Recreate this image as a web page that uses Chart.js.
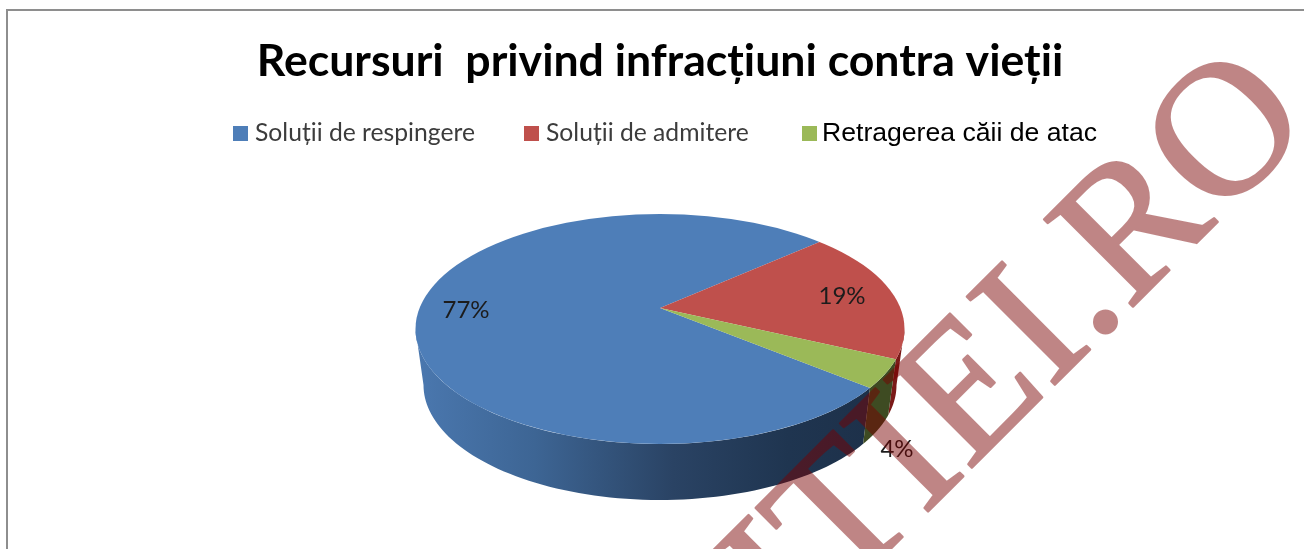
<!DOCTYPE html>
<html><head><meta charset="utf-8">
<style>html,body{margin:0;padding:0;background:#fff;overflow:hidden}canvas{display:block}</style>
<script src="https://cdn.jsdelivr.net/npm/chart.js@4"></script>
</head><body><canvas id="c" width="1304" height="549"></canvas>
<script>
const titleText = 'Recursuri  privind infracțiuni contra vieții';
const categories = ['Soluții de respingere', 'Soluții de admitere', 'Retragerea căii de atac'];
const values = [77, 19, 4];
const sliceColors = ['#4e7eb8', '#bf504c', '#9bb958'];
const wallColors = [null, '#7b1a18', '#3e4b22'];
const watermarkText = 'JUSTITIEI.RO';

// pie projection (tilted disc)
const TOP = {cx: 660, cy: 329, rx: 244.5, ry: 115};
const BOT = {cx: 660, cy: 385, rx: 236.5, ry: 115};
const APEX = {x: 660, y: 308};
const TILT = 0.45, STRETCH = 1.6;
const deg = Math.PI / 180;
const FRONT_RIGHT = 10.8 * deg, FRONT_LEFT = 169.2 * deg;

function rim(angle) {
  const dx = Math.cos(angle), dy = TILT * Math.sin(angle);
  const ox = APEX.x - TOP.cx, oy = APEX.y - TOP.cy;
  const a = dx*dx/(TOP.rx*TOP.rx) + dy*dy/(TOP.ry*TOP.ry);
  const b = 2*(ox*dx/(TOP.rx*TOP.rx) + oy*dy/(TOP.ry*TOP.ry));
  const c = ox*ox/(TOP.rx*TOP.rx) + oy*oy/(TOP.ry*TOP.ry) - 1;
  const t = (-b + Math.sqrt(b*b - 4*a*c)) / (2*a);
  return {x: APEX.x + t*dx, y: APEX.y + t*dy};
}
function lower(p) {
  return {x: BOT.cx + (p.x-TOP.cx)*BOT.rx/TOP.rx, y: p.y - TOP.cy + BOT.cy};
}
function wall(ctx, a0, a1, fill) {
  const n = 80, up = [], low = [];
  for (let i = 0; i <= n; i++) { const p = rim(a0 + (a1-a0)*i/n); up.push(p); low.push(lower(p)); }
  ctx.beginPath();
  up.forEach((p,i) => i ? ctx.lineTo(p.x,p.y) : ctx.moveTo(p.x,p.y));
  low.reverse().forEach(p => ctx.lineTo(p.x,p.y));
  ctx.closePath();
  ctx.fillStyle = fill;
  ctx.fill();
}
const norm = a => Math.atan2(Math.sin(a), Math.cos(a));

const piePlugin = {
  id: 'tiltedPie',
  beforeDatasetsDraw(chart) {
    const ctx = chart.ctx, arcs = chart.getDatasetMeta(0).data;
    const g = ctx.createLinearGradient(420, 0, 880, 0);
    g.addColorStop(0, '#4a77ae');
    g.addColorStop(0.25, '#3d6594');
    g.addColorStop(0.55, '#2a4364');
    g.addColorStop(0.8, '#1f3550');
    g.addColorStop(1, '#1d3049');
    ctx.save();
    wall(ctx, norm(arcs[0].startAngle), FRONT_LEFT, g);
    for (let i = 1; i < arcs.length; i++) {
      let a0 = norm(arcs[i].startAngle), a1 = norm(arcs[i].endAngle);
      if (a1 < a0) a1 += Math.PI*2;
      if (a1 > FRONT_RIGHT) wall(ctx, Math.max(a0, FRONT_RIGHT), a1, wallColors[i]);
    }
    ctx.restore();
  },
  beforeDatasetDraw(chart) {
    const ctx = chart.ctx, a = chart.getDatasetMeta(0).data[0];
    ctx.save();
    ctx.beginPath();
    ctx.ellipse(TOP.cx, TOP.cy, TOP.rx, TOP.ry, 0, 0, Math.PI*2);
    ctx.clip();
    ctx.translate(APEX.x, APEX.y);
    ctx.scale(STRETCH, STRETCH*TILT);
    ctx.translate(-a.x, -a.y);
  },
  afterDatasetDraw(chart) { chart.ctx.restore(); },
  afterDatasetsDraw(chart) {
    const ctx = chart.ctx;
    // data labels
    const spots = [[466, 310], [842, 296], [897, 449]];
    const total = values.reduce((p,v) => p+v, 0);
    ctx.save();
    ctx.font = '24px Lato, sans-serif';
    ctx.fillStyle = '#1c1c1c';
    ctx.textAlign = 'center';
    ctx.textBaseline = 'middle';
    values.forEach((v,i) => ctx.fillText(Math.round(v/total*100) + '%', spots[i][0], spots[i][1]));
    // legend
    const items = [
      {box: 233, text: 255, font: '24.7px Lato, sans-serif', color: '#3c3c3c'},
      {box: 524, text: 546, font: '24.7px Lato, sans-serif', color: '#3c3c3c'},
      {box: 802, text: 822, font: '26.6px "Liberation Sans", sans-serif', color: '#000'}
    ];
    ctx.textAlign = 'left';
    ctx.textBaseline = 'alphabetic';
    items.forEach((it,i) => {
      ctx.fillStyle = sliceColors[i];
      ctx.fillRect(it.box, 126, 15, 15);
      ctx.font = it.font;
      ctx.fillStyle = it.color;
      ctx.fillText(categories[i], it.text, 141);
    });
    ctx.restore();
  },
  afterDraw(chart) {
    const ctx = chart.ctx;
    // frame
    ctx.save();
    ctx.fillStyle = '#8e8e8e';
    ctx.fillRect(6, 9, 1298, 2);
    ctx.fillRect(6, 9, 2, 540);
    ctx.restore();
    // watermark: one flat translucent layer, slightly emboldened
    const layer = document.createElement('canvas');
    layer.width = chart.width; layer.height = chart.height;
    const w = layer.getContext('2d');
    w.translate(1315, 124.5);
    w.rotate(-Math.PI/4);
    w.font = '190px "Liberation Serif", serif';
    w.textAlign = 'right';
    w.textBaseline = 'alphabetic';
    w.fillStyle = w.strokeStyle = 'rgb(121,0,0)';
    w.lineWidth = 2.5;
    w.lineJoin = 'round';
    w.fillText(watermarkText, 0, 0);
    w.strokeText(watermarkText, 0, 0);
    ctx.save();
    ctx.globalAlpha = 0.48;
    ctx.drawImage(layer, 0, 0);
    ctx.restore();
  }
};

new Chart(document.getElementById('c'), {
  type: 'pie',
  data: {
    labels: categories,
    datasets: [{data: values, backgroundColor: sliceColors, borderWidth: 0, clip: false}]
  },
  plugins: [piePlugin],
  options: {
    responsive: false,
    animation: false,
    rotation: 130.2,
    layout: {padding: {left: 16}},
    plugins: {
      legend: {display: false},
      tooltip: {enabled: false},
      title: {
        display: true, text: titleText, color: '#000',
        font: {family: 'Lato, sans-serif', size: 44.6, weight: 'bold'},
        padding: {top: 35, bottom: 10}
      }
    }
  }
});
</script></body></html>
